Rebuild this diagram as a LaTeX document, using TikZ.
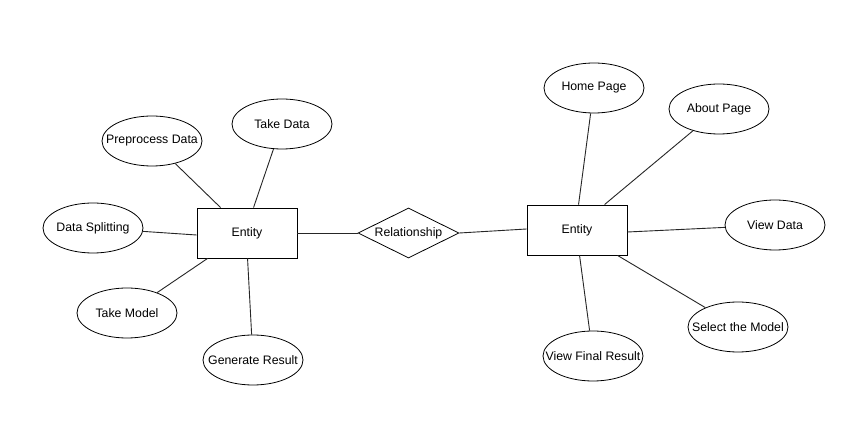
\documentclass[tikz,border=0pt]{standalone}
\usepackage{fontspec}
\setmainfont{Liberation Sans}
\usetikzlibrary{shapes.geometric}
\newcommand{\zbox}[1]{\makebox[0pt]{#1}}
\begin{document}
\begin{tikzpicture}[x=1pt,y=-1pt,
  every node/.style={font=\fontsize{12.3}{14}\selectfont},
  attr/.style={draw=black, line width=0.8pt, ellipse, minimum width=100pt, minimum height=50pt, inner sep=0pt},
  ent/.style={draw=black, line width=0.9pt, rectangle, minimum width=100pt, minimum height=50pt, inner sep=0pt},
  rel/.style={draw=black, line width=0.8pt, diamond, shape aspect=2, minimum width=101pt, minimum height=50pt, inner sep=0pt},
  link/.style={draw=black!85, line width=0.9pt}]
\fill[white] (0,0) rectangle (844,446);
\useasboundingbox (0,0) rectangle (844,446);

\node[ent] (le) at (247,233) {Entity};
\node[ent] (re) at (577,230) {Entity};
\node[rel] (r) at (408.5,233) {\zbox{Relationship}};

\node[attr] (pp) at (152,141) {\zbox{Preprocess Data}};
\node[attr] (td) at (282,124) {\zbox{Take Data}};
\node[attr] (ds) at (93,228) {\zbox{Data Splitting}};
\node[attr] (tm) at (127,313) {\zbox{Take Model}};
\node[attr] (gr) at (253,360) {\zbox{Generate Result}};

\node[attr] (hp) at (594,88) {\zbox{Home Page}};
\node[attr] (ap) at (719,109) {\zbox{About Page}};
\node[attr] (vd) at (775,225) {\zbox{View Data}};
\node[attr] (sm) at (738,327) {\zbox{Select the Model}};
\node[attr] (vf) at (593,356) {\zbox{View Final Result}};

\draw[link] (le.east) -- (r.west);
\draw[link] (r.east) -- ([yshift=1pt]re.west);

\draw[link] (pp) -- ([xshift=24pt]le.north west);
\draw[link] (td) -- ([xshift=57pt]le.north west);
\draw[link] (ds) -- ([yshift=-2pt]le.west);
\draw[link] (tm) -- ([xshift=11pt]le.south west);
\draw[link] (gr) -- ([xshift=51pt]le.south west);

\draw[link] (hp) -- ([xshift=52pt]re.north west);
\draw[link] (ap) -- ([xshift=78pt]re.north west);
\draw[link] (vd) -- ([yshift=-2pt]re.east);
\draw[link] (sm) -- ([xshift=91pt]re.south west);
\draw[link] (vf) -- ([xshift=53pt]re.south west);
\end{tikzpicture}
\end{document}
